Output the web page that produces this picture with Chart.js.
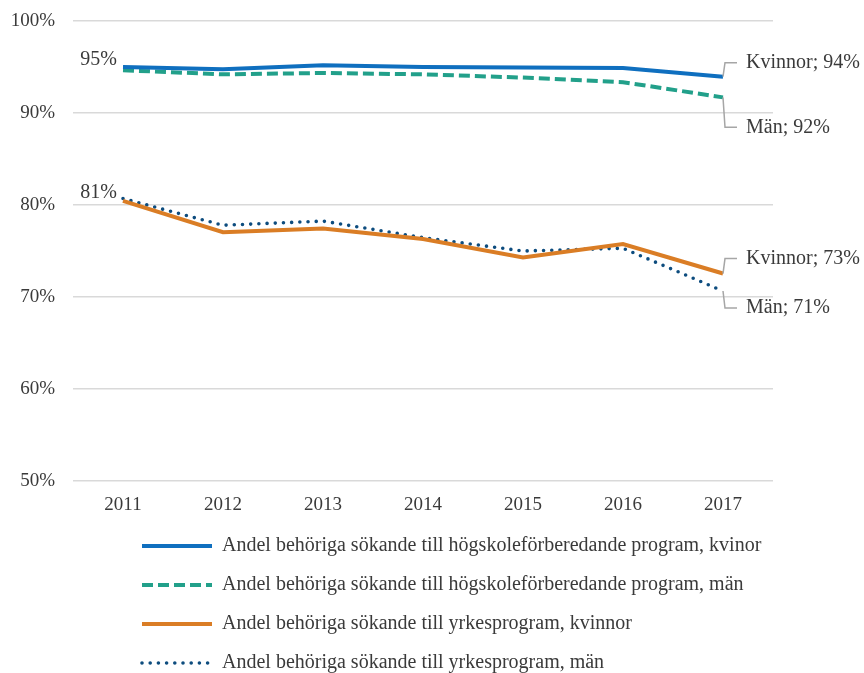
<!DOCTYPE html>
<html lang="sv">
  <head>
    <meta charset="UTF-8" />
    <title>Andel behöriga sökande</title>
    <style>
      html,
      body {
        margin: 0;
        padding: 0;
        background: #fff;
        overflow: hidden;
      }
      .chart-container {
        position: relative;
        width: 864px;
        height: 683px;
      }
    </style>
  </head>
  <body>
    <div class="chart-container">
      <canvas id="chart"></canvas>
    </div>

    <script src="https://cdn.jsdelivr.net/npm/chart.js"></script>
    <script>
      // data
      const years = ["2011", "2012", "2013", "2014", "2015", "2016", "2017"];
      const hogskoleKvinnor = [95.0, 94.75, 95.2, 95.0, 94.95, 94.9, 93.95];
      const hogskoleMan = [94.65, 94.2, 94.35, 94.2, 93.85, 93.35, 91.7];
      const yrkesKvinnor = [80.45, 77.05, 77.45, 76.3, 74.3, 75.75, 72.55];
      const yrkesMan = [80.7, 77.8, 78.25, 76.45, 75.0, 75.3, 70.65];

      const seriesNames = [
        "Andel behöriga sökande till högskoleförberedande program, kvinor",
        "Andel behöriga sökande till högskoleförberedande program, män",
        "Andel behöriga sökande till yrkesprogram, kvinnor",
        "Andel behöriga sökande till yrkesprogram, män",
      ];

      const FONT = "'Liberation Serif', 'DejaVu Serif', serif";
      const TEXT = "#3a3a3a";

      // value labels: dataset index, point index, text, placement
      const pointLabels = [
        { ds: 0, i: 0, text: "95%", kind: "left", dy: -7 },
        { ds: 3, i: 0, text: "81%", kind: "left", dy: -6 },
        { ds: 0, i: 6, text: "Kvinnor; 94%", kind: "leader", dy: -14 },
        { ds: 1, i: 6, text: "Män; 92%", kind: "leader", dy: 30 },
        { ds: 2, i: 6, text: "Kvinnor; 73%", kind: "leader", dy: -15 },
        { ds: 3, i: 6, text: "Män; 71%", kind: "leader", dy: 17 },
      ];

      const labelPlugin = {
        id: "pointLabels",
        afterLayout(chart) {
          // left-align legend rows under the plot like the original
          const pad = chart.options.plugins.legend.labels.padding;
          chart.legend.left = 142 - pad;
        },
        afterDatasetsDraw(chart) {
          const ctx = chart.ctx;
          ctx.save();
          ctx.font = "20px " + FONT;
          ctx.fillStyle = TEXT;
          ctx.textBaseline = "middle";
          pointLabels.forEach((l) => {
            const pt = chart.getDatasetMeta(l.ds).data[l.i];
            const x = pt.x;
            const y = pt.y;
            if (l.kind === "left") {
              ctx.textAlign = "right";
              ctx.fillText(l.text, x - 6, y + l.dy);
            } else {
              ctx.strokeStyle = "#a6a6a6";
              ctx.lineWidth = 1.5;
              ctx.beginPath();
              ctx.moveTo(x, y);
              ctx.lineTo(x + 2, y + l.dy);
              ctx.lineTo(x + 14, y + l.dy);
              ctx.stroke();
              ctx.textAlign = "left";
              ctx.fillText(l.text, x + 23, y + l.dy);
            }
          });
          ctx.restore();
        },
      };

      const ctx = document.getElementById("chart").getContext("2d");

      new Chart(ctx, {
        type: "line",
        data: {
          labels: years,
          datasets: [
            {
              label: seriesNames[0],
              data: hogskoleKvinnor,
              borderColor: "#0f6fbf",
              borderWidth: 4,
            },
            {
              label: seriesNames[1],
              data: hogskoleMan,
              borderColor: "#22a08a",
              borderWidth: 4,
              borderDash: [11, 5],
            },
            {
              label: seriesNames[2],
              data: yrkesKvinnor,
              borderColor: "#da7d25",
              borderWidth: 4,
            },
            {
              label: seriesNames[3],
              data: yrkesMan,
              borderColor: "#0d4c7e",
              borderWidth: 3.6,
              borderDash: [0, 8.2],
              borderCapStyle: "round",
            },
          ],
        },
        options: {
          responsive: true,
          maintainAspectRatio: false,
          animation: false,
          layout: {
            padding: { top: 21, left: 0, right: 91, bottom: 0 },
          },
          elements: {
            point: { radius: 0, hoverRadius: 0 },
            line: { tension: 0, fill: false },
          },
          scales: {
            x: {
              offset: true,
              grid: { display: false, drawTicks: false },
              border: { display: false },
              ticks: {
                color: TEXT,
                font: { family: FONT, size: 19 },
                padding: 13,
                maxRotation: 0,
              },
              afterFit: (scale) => {
                scale.height = 36;
              },
            },
            y: {
              min: 50,
              max: 100,
              grid: {
                color: "#d9d9d9",
                lineWidth: 1.5,
                drawTicks: false,
              },
              border: { display: false },
              ticks: {
                stepSize: 10,
                color: TEXT,
                padding: 18,
                font: { family: FONT, size: 19 },
                callback: (v) => v + "%",
              },
              afterFit: (scale) => {
                scale.width = 73;
                scale.paddingTop = 0;
                scale.paddingBottom = 0;
              },
            },
          },
          plugins: {
            tooltip: { enabled: false },
            legend: {
              position: "bottom",
              align: "start",
              labels: {
                color: TEXT,
                font: { family: FONT, size: 20 },
                padding: 19,
                usePointStyle: true,
                pointStyle: "line",
                pointStyleWidth: 70,
                generateLabels: (chart) =>
                  Chart.defaults.plugins.legend.labels
                    .generateLabels(chart)
                    .map((item, i) => {
                      const ds = chart.data.datasets[i];
                      item.lineDash = ds.borderDash || [];
                      item.lineCap = ds.borderCapStyle || "butt";
                      item.lineWidth = ds.borderWidth;
                      item.strokeStyle = ds.borderColor;
                      item.pointStyle = "line";
                      return item;
                    }),
              },
            },
          },
        },
        plugins: [labelPlugin],
      });
    </script>
  </body>
</html>
